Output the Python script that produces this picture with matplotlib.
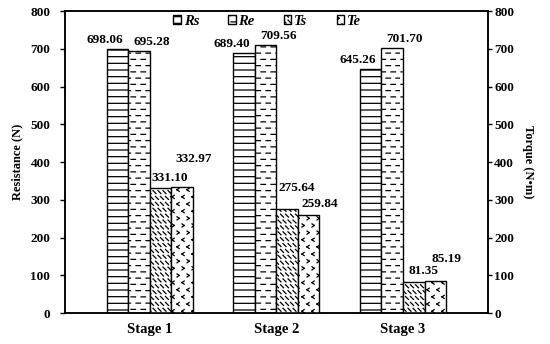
import numpy as np
import matplotlib
matplotlib.use("Agg")
import matplotlib.pyplot as plt
from matplotlib import hatch as mhatch
from matplotlib.path import Path

# ---------------- data ----------------
stages = ["Stage 1", "Stage 2", "Stage 3"]
Rs = [698.06, 689.40, 645.26]
Re = [695.28, 709.56, 701.70]
Ts = [331.10, 275.64, 81.35]
Te = [332.97, 259.84, 85.19]
series_names = ["Rs", "Re", "Ts", "Te"]
yticks = [0, 100, 200, 300, 400, 500, 600, 700, 800]

# ---------------- custom hatch patterns ----------------
class _SegHatch(mhatch.HatchPatternBase):
    char = None

    def __init__(self, hatch, density):
        n = hatch.count(self.char)
        self.segs = self.make_segs() if n else []
        self.num_vertices = 2 * len(self.segs)

    def set_vertices_and_codes(self, vertices, codes):
        for i, (p, q) in enumerate(self.segs):
            vertices[2 * i] = p
            vertices[2 * i + 1] = q
            codes[2 * i] = Path.MOVETO
            codes[2 * i + 1] = Path.LINETO


class LineHatch(_SegHatch):  # horizontal lines, 15 per unit (replaces '|')
    char = '|'

    def make_segs(self):
        nr = 15
        return [((0.0, (r + 0.5) / nr), (1.0, (r + 0.5) / nr)) for r in range(nr)]


class DashHatch(_SegHatch):  # dashed horizontal rows (replaces 'o')
    char = 'o'

    def make_segs(self):
        segs = []
        nr, nc = 16, 10
        for r in range(nr):
            y = (r + 0.5) / nr
            for c in range(nc):
                x0 = (c + 0.5 * (r % 2)) / nc + 0.01
                segs.append(((x0, y), (x0 + 0.045, y)))
        return segs


class ChevronHatch(_SegHatch):  # small < > marks (replaces 'O')
    char = 'O'

    def make_segs(self):
        segs = []
        nr, nc = 14, 10
        w, h = 0.022, 0.032
        for r in range(nr):
            y = r / nr + 0.015
            for c in range(nc):
                x = (c + 0.5 * (r % 2)) / nc + 0.02
                if x + w > 0.995:
                    continue
                if (r // 3) % 2 == 0:
                    segs.append(((x + w, y + h), (x, y + h / 2)))
                    segs.append(((x, y + h / 2), (x + w, y)))
                else:
                    segs.append(((x, y + h), (x + w, y + h / 2)))
                    segs.append(((x + w, y + h / 2), (x, y)))
        return segs


class BackDashHatch(_SegHatch):  # short backslash dashes (replaces '*')
    char = '*'

    def make_segs(self):
        segs = []
        nr, nc = 17, 20
        d = 0.03
        for r in range(nr):
            y = r / nr + 0.005
            for c in range(nc):
                x = (c + 0.5 * (r % 2)) / nc + 0.005
                if x + d > 0.998:
                    continue
                segs.append(((x, y + d), (x + d, y)))
        return segs


new_types = []
for t in mhatch._hatch_types:
    if t is mhatch.VerticalHatch:
        new_types.append(LineHatch)
    elif t is mhatch.SmallCircles:
        new_types.append(DashHatch)
    elif t is mhatch.LargeCircles:
        new_types.append(ChevronHatch)
    elif t is mhatch.Stars:
        new_types.append(BackDashHatch)
    else:
        new_types.append(t)
mhatch._hatch_types[:] = new_types

# ---------------- figure ----------------
plt.rcParams['font.family'] = ['Liberation Serif', 'DejaVu Serif']
plt.rcParams['font.weight'] = 'bold'
plt.rcParams['hatch.linewidth'] = 0.9

fig = plt.figure(figsize=(5.5, 3.44), dpi=100)
ax = fig.add_axes([0.118, 0.090, 0.769, 0.878])
ax2 = ax.twinx()

x = np.arange(len(stages))
w = 0.17
offs = [-1.5 * w, -0.5 * w, 0.5 * w, 1.5 * w]
hatches = ['|', 'o', '*', 'O']

b1 = ax.bar(x + offs[0], Rs, w, facecolor='white', edgecolor='black', lw=1.0, hatch=hatches[0], label='Rs')
b2 = ax.bar(x + offs[1], Re, w, facecolor='white', edgecolor='black', lw=1.0, hatch=hatches[1], label='Re')
b3 = ax2.bar(x + offs[2], Ts, w, facecolor='white', edgecolor='black', lw=1.0, hatch=hatches[2], label='Ts')
b4 = ax2.bar(x + offs[3], Te, w, facecolor='white', edgecolor='black', lw=1.0, hatch=hatches[3], label='Te')

for a in (ax, ax2):
    a.set_ylim(0, 800)
    a.set_yticks(yticks)
    for s in a.spines.values():
        s.set_linewidth(1.1)
ax.tick_params(axis='y', direction='out', length=3.5, width=1, labelsize=9.5, pad=7)
ax2.tick_params(axis='y', direction='out', length=3, width=1, labelsize=9.5, pad=1.5)
ax.set_xlim(-0.67, 2.67)
ax.set_xticks(x)
ax.set_xticklabels(stages, fontsize=10.5, fontweight='bold')
ax.tick_params(axis='x', length=0, pad=7)
for lab in ax.get_yticklabels() + ax2.get_yticklabels():
    lab.set_fontweight('bold')

ax.set_ylabel("Resistance (N)", fontsize=9, fontweight='bold', labelpad=5)
ax2.set_ylabel("Torque (N\u2022m)", fontsize=9, fontweight='bold', rotation=270, labelpad=14)

# value labels: (x offset in data units from bar centre, y offset in pixels)
lab_dx = [-0.10, 0.10, 0.075, 0.09]
lab_dy = [[3, 3, 3], [3, 3, 3], [4, 15, 5], [22, 5, 16]]
axes_for = [ax, ax, ax2, ax2]
for si, (vals, a) in enumerate(zip([Rs, Re, Ts, Te], axes_for)):
    for i, v in enumerate(vals):
        a.annotate(f"{v:.2f}", xy=(x[i] + offs[si] + lab_dx[si], v),
                   xytext=(0, lab_dy[si][i]), textcoords='offset pixels',
                   ha='center', va='bottom', fontsize=9.5, fontweight='bold')

handles = [b1, b2, b3, b4]
leg = ax2.legend(handles, series_names, loc='center', bbox_to_anchor=(0.478, 0.966),
                 ncol=4, frameon=False, handlelength=0.5, handleheight=0.5,
                 handletextpad=0.2, columnspacing=2.0, borderpad=0.0, borderaxespad=0.0,
                 prop={'family': 'Liberation Serif', 'style': 'italic', 'weight': 'bold', 'size': 10.5})

fig.savefig("out.png", dpi=100)
